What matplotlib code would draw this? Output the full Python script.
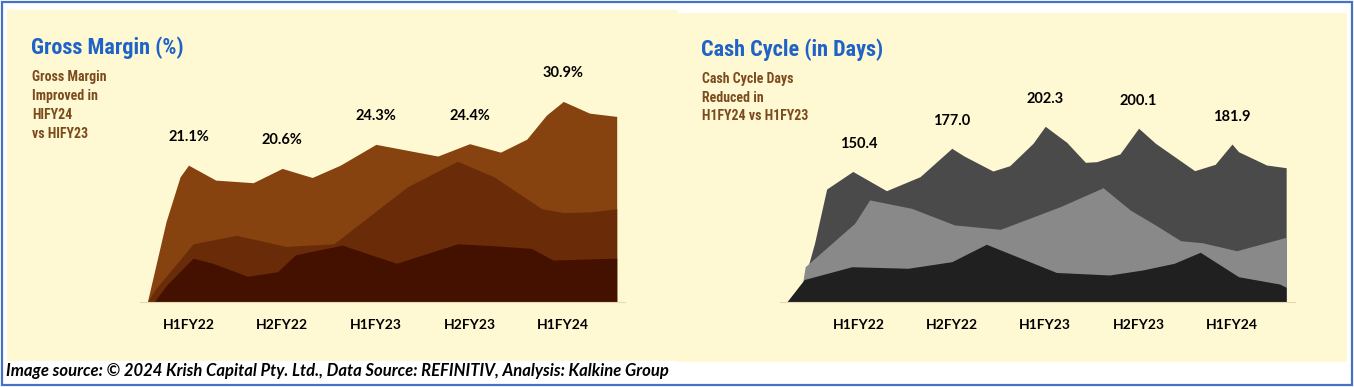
import matplotlib
matplotlib.use('Agg')
import matplotlib.pyplot as plt
from matplotlib.patches import Rectangle
from matplotlib import font_manager
from matplotlib.font_manager import FontProperties

# ---------------- data ----------------
periods = ['H1FY22', 'H2FY22', 'H1FY23', 'H2FY23', 'H1FY24']
gross_margin = [21.1, 20.6, 24.3, 24.4, 30.9]
cash_cycle = [150.4, 177.0, 202.3, 200.1, 181.9]

# decorative layered areas (x in period-index units)
gm_back_x = [-0.44, -0.24, -0.09, 0.0, 0.29, 0.69, 1.0, 1.32, 1.62, 1.81, 2.0, 2.66, 3.0, 3.33, 3.61, 3.82, 4.0, 4.28, 4.57]
gm_back_y = [0, 12.4, 19.3, 21.1, 18.8, 18.4, 20.6, 19.2, 21.1, 22.7, 24.3, 22.5, 24.4, 23.1, 25.1, 28.8, 30.9, 29.1, 28.6]
gm_mid_x = [-0.44, -0.36, 0.05, 0.51, 1.04, 1.55, 2.34, 2.87, 3.26, 3.77, 4.0, 4.28, 4.57]
gm_mid_y = [0, 1.9, 9.0, 10.3, 8.6, 9.0, 17.8, 21.7, 19.3, 14.4, 13.8, 13.9, 14.4]
gm_front_x = [-0.37, -0.23, 0.05, 0.26, 0.63, 0.95, 1.14, 1.64, 2.22, 2.87, 3.26, 3.66, 3.89, 4.57]
gm_front_y = [0, 2.7, 6.8, 6.0, 4.0, 4.7, 7.3, 8.8, 6.0, 9.0, 8.7, 8.3, 6.5, 6.8]

cc_back_x = [-0.63, -0.54, -0.47, -0.34, -0.06, 0.30, 0.66, 1.0, 1.13, 1.44, 1.62, 1.87, 2.0, 2.23, 2.43,
             2.55, 2.80, 3.0, 3.18, 3.60, 3.82, 4.0, 4.07, 4.37, 4.58]
cc_back_y = [0, 40.9, 67.8, 130.2, 150.4, 128.3, 144.4, 177.0, 168.2, 150.9, 157.0, 182.8, 202.3, 183.9, 160.9,
             161.6, 170.5, 200.1, 182.8, 151.3, 158.6, 181.9, 173.1, 157.8, 154.7]
cc_mid_x = [-0.63, -0.57, -0.04, 0.12, 0.57, 1.03, 1.52, 2.16, 2.62, 2.91, 3.18, 3.45, 3.68, 4.05, 4.58]
cc_mid_y = [0, 40.9, 90.8, 117.7, 108.0, 88.9, 83.9, 109.9, 131.7, 106.1, 88.9, 70.8, 68.5, 59.3, 74.7]
cc_front_x = [-0.77, -0.58, -0.07, 0.53, 1.0, 1.37, 2.12, 2.69, 3.04, 3.38, 3.66, 4.07, 4.51, 4.58]
cc_front_y = [0, 26.2, 40.9, 39.1, 46.7, 66.7, 34.3, 31.4, 37.1, 44.8, 57.5, 29.4, 21.0, 17.2]

gm_title = 'Gross Margin (%)'
gm_note = ['Gross Margin', 'Improved in', 'HIFY24', 'vs HIFY23']
cc_title = 'Cash Cycle (in Days)'
cc_note = ['Cash Cycle Days', 'Reduced in', 'H1FY24 vs H1FY23']
footer = 'Image source: \u00a9 2024 Krish Capital Pty. Ltd., Data Source: REFINITIV, Analysis: Kalkine Group'

# ---------------- fonts ----------------
names = {f.name for f in font_manager.fontManager.ttflist}


def pick_condensed():
    for p in ['Liberation Sans Narrow', 'Roboto Condensed', 'Open Sans Condensed', 'Noto Sans Condensed',
              'DejaVu Sans Condensed', 'Arial Narrow']:
        if p in names:
            return p, 'normal'
    for stretch in ['condensed', 'semi-condensed', 'extra-condensed']:
        for pref in ['Noto Sans', 'Open Sans', 'DejaVu Sans', 'Roboto']:
            for f in font_manager.fontManager.ttflist:
                if f.name == pref and str(f.stretch).lower() == stretch:
                    return f.name, stretch
    for f in font_manager.fontManager.ttflist:
        if str(f.stretch).lower() in ('condensed', 'semi-condensed', 'extra-condensed'):
            return f.name, str(f.stretch).lower()
    return None


cond = pick_condensed()
if cond is not None:
    narrow_fam, narrow_stretch = cond
    narrow_scale = 1.0
else:
    narrow_fam, narrow_stretch = 'DejaVu Sans', 'normal'
    narrow_scale = 0.8
body = 'Lato' if 'Lato' in names else 'DejaVu Sans'


def nfont(size):
    return FontProperties(family=[narrow_fam, 'DejaVu Sans'], stretch=narrow_stretch,
                          weight='bold', size=size * narrow_scale)


CREAM = '#FFF9D3'
BLUE_T = '#1F63C6'
BROWN_T = '#7B4B1E'

W, H = 1354, 387
fig = plt.figure(figsize=(W / 100, H / 100), dpi=100)
fig.patch.set_facecolor('white')

bg = fig.add_axes([0, 0, 1, 1])
bg.set_xlim(0, W)
bg.set_ylim(H, 0)
bg.axis('off')
bg.add_patch(Rectangle((7, 10), 671, 351, facecolor=CREAM, edgecolor='none'))
bg.add_patch(Rectangle((678, 12.5), 669, 349, facecolor=CREAM, edgecolor='none'))
bg.add_patch(Rectangle((1.5, 1.5), 1350.5, 383.5, facecolor='none', edgecolor='#4472C4', lw=1.6))

# titles and notes
bg.text(31, 48, gm_title, color=BLUE_T, fontproperties=nfont(16), va='center', ha='left')
bg.text(701, 50, cc_title, color=BLUE_T, fontproperties=nfont(16), va='center', ha='left')
for i, line in enumerate(gm_note):
    bg.text(32, 77 + 19 * i, line, color=BROWN_T, fontproperties=nfont(10), va='center', ha='left')
for i, line in enumerate(cc_note):
    bg.text(702, 78.5 + 19 * i, line, color=BROWN_T, fontproperties=nfont(10), va='center', ha='left')

bg.text(6, 371, footer, color='black', fontsize=12, fontweight='bold', style='italic',
        family=[body, 'DejaVu Sans'], va='center', ha='left')


def make_axes(px_left, px_right, px_top, px_base, x0_px, x_step, y_scale):
    ax = fig.add_axes([px_left / W, (H - px_base) / H, (px_right - px_left) / W, (px_base - px_top) / H])
    ax.set_xlim((px_left - x0_px) / x_step, (px_right - x0_px) / x_step)
    ax.set_ylim(0, (px_base - px_top) / y_scale)
    ax.patch.set_alpha(0)
    for s in ['top', 'right', 'left']:
        ax.spines[s].set_visible(False)
    ax.spines['bottom'].set_color('#E2DAB4')
    ax.spines['bottom'].set_linewidth(0.8)
    ax.set_yticks([])
    ax.set_xticks(range(len(periods)))
    ax.set_xticklabels(periods, fontsize=10, fontweight='bold', family=[body, 'DejaVu Sans'])
    ax.tick_params(axis='x', length=0, pad=12)
    return ax


# ---------------- Gross margin ----------------
ax1 = make_axes(140, 625, 60, 302.3, 188.5, 93.7, 6.5)
ax1.fill_between(gm_back_x, gm_back_y, 0, color='#86430F', lw=0)
ax1.fill_between(gm_mid_x, gm_mid_y, 0, color='#6A2C08', lw=0)
ax1.fill_between(gm_front_x, gm_front_y, 0, color='#441100', lw=0)
for i, v in enumerate(gross_margin):
    ax1.annotate(f'{v:.1f}%', (i, v), xytext=(0, 28), textcoords='offset pixels',
                 ha='center', va='center', fontsize=10.5, fontweight='bold',
                 family=[body, 'DejaVu Sans'], color='black')

# ---------------- Cash cycle ----------------
ax2 = make_axes(780, 1295, 60, 302.3, 858.4, 93.4, 0.87)
ax2.fill_between(cc_back_x, cc_back_y, 0, color='#4A4A4A', lw=0)
ax2.fill_between(cc_mid_x, cc_mid_y, 0, color='#898989', lw=0)
ax2.fill_between(cc_front_x, cc_front_y, 0, color='#202020', lw=0)
for i, v in enumerate(cash_cycle):
    ax2.annotate(f'{v:.1f}', (i, v), xytext=(0, 27), textcoords='offset pixels',
                 ha='center', va='center', fontsize=10.5, fontweight='bold',
                 family=[body, 'DejaVu Sans'], color='black')

fig.savefig('out.png', dpi=100, facecolor='white')
